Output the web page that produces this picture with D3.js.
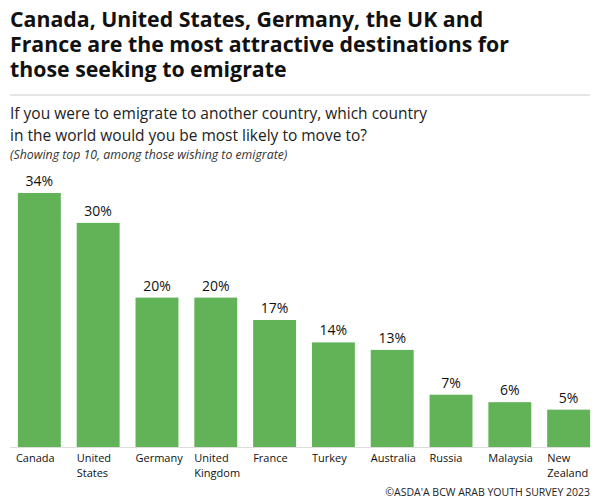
<!DOCTYPE html>
<html><head><meta charset="utf-8">
<script src="https://cdn.jsdelivr.net/npm/d3@7"></script>
<style>body{margin:0;background:#fff;font-family:"Open Sans",sans-serif}</style>
</head><body><svg id="c" width="599" height="502"></svg>
<script>
const categories=["Canada","United States","Germany","United Kingdom","France","Turkey","Australia","Russia","Malaysia","New Zealand"];
const labels=[["Canada"],["United","States"],["Germany"],["United","Kingdom"],["France"],["Turkey"],["Australia"],["Russia"],["Malaysia"],["New","Zealand"]];
const values=[34,30,20,20,17,14,13,7,6,5];
const svg=d3.select("#c");
const title=["Canada, United States, Germany, the UK and","France are the most attractive destinations for","those seeking to emigrate"];
title.forEach((t,i)=>svg.append("text").attr("x",10).attr("y",27+i*25).attr("font-size",21.3).attr("font-weight",700).attr("fill","#111").text(t));
svg.append("line").attr("x1",10).attr("x2",590).attr("y1",95).attr("y2",95).attr("stroke","#ccc");
["If you were to emigrate to another country, which country","in the world would you be most likely to move to?"].forEach((t,i)=>svg.append("text").attr("x",10).attr("y",119+i*22).attr("font-size",15.5).attr("fill","#222").text(t));
svg.append("text").attr("x",10).attr("y",159).attr("font-size",12.3).attr("font-style","italic").attr("fill","#333").text("(Showing top 10, among those wishing to emigrate)");
const x=d3.scaleBand().domain(categories).range([12,596]).paddingInner(0.27).paddingOuter(0.1);
const y=d3.scaleLinear().domain([0,34]).range([447,193]);
svg.append("line").attr("x1",10).attr("x2",590).attr("y1",447.5).attr("y2",447.5).attr("stroke","#ddd");
svg.selectAll("rect.b").data(values).join("rect").attr("x",(d,i)=>x(categories[i])).attr("y",d=>y(d)).attr("width",x.bandwidth()).attr("height",d=>y(0)-y(d)).attr("fill","#62b358");
svg.selectAll("text.v").data(values).join("text").attr("x",(d,i)=>x(categories[i])+x.bandwidth()/2).attr("y",d=>y(d)-7).attr("text-anchor","middle").attr("font-size",14).attr("fill","#111").text(d=>d+"%");
labels.forEach((l,i)=>l.forEach((t,j)=>svg.append("text").attr("x",x(categories[i])+(i==0?-2:0)).attr("y",462+j*15).attr("font-size",11).attr("fill","#111").text(t)));
svg.append("text").attr("x",590).attr("y",496).attr("text-anchor","end").attr("font-size",10.5).attr("fill","#222").text("©ASDA'A BCW ARAB YOUTH SURVEY 2023");
</script></body></html>
